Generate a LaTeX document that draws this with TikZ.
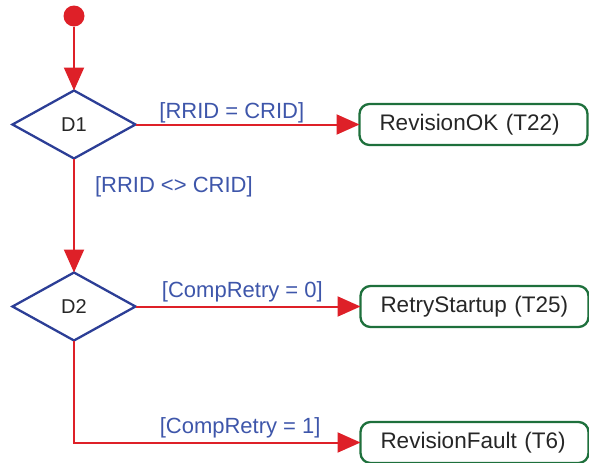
\documentclass[tikz,border=0pt]{standalone}
\usepackage{fontspec}
\setmainfont{Liberation Sans}
\usetikzlibrary{arrows.meta,positioning,shapes.geometric}

\definecolor{flowred}{RGB}{222,32,40}
\definecolor{decblue}{RGB}{44,62,150}
\definecolor{guardblue}{RGB}{62,86,170}
\definecolor{stategreen}{RGB}{30,112,60}

\begin{document}
\begin{tikzpicture}[
  flow/.style={-{Triangle[length=23pt,width=20pt]}, line width=2pt, draw=flowred},
  initial/.style={circle, fill=flowred, minimum size=21pt, inner sep=0pt, outer sep=0pt},
  decision/.style={diamond, draw=decblue, line width=2.3pt, minimum width=123pt,
    minimum height=68pt, inner sep=0pt, outer sep=0pt,
    font=\fontsize{20}{24}\selectfont, text=black!85},
  state/.style={rectangle, rounded corners=10pt, draw=stategreen, line width=2.3pt,
    text width=188pt, align=left, inner xsep=20pt, inner ysep=0pt,
    minimum height=41pt, outer sep=0pt, font=\fontsize{22.5}{26}\selectfont, text=black!85},
  guard/.style={text=guardblue, font=\fontsize{22}{26}\selectfont, inner sep=3pt}
]
\useasboundingbox (0pt,0pt) rectangle (589pt,-463pt);

\node[initial] (start) at (74pt,-16pt) {};
\node[decision, below=64pt of start] (d1) {D1};
\node[state, right=224pt of d1] (ok) {RevisionOK (T22)};
\node[decision, below=114pt of d1] (d2) {D2};
\node[state, right=225pt of d2] (retry) {RetryStartup (T25)};
\node[state, below=95pt of retry] (fault) {RevisionFault (T6)};

\draw[flow] (start) -- (d1);
\draw[flow] (d1) -- node[guard, above, pos=0.43, yshift=-3pt] (g1) {[RRID = CRID]} (ok);
\draw[flow] (d1) -- node[guard, right, pos=0.25, xshift=17pt] (g2) {[RRID <> CRID]} (d2);
\draw[flow] (d2) -- node[guard, above, pos=0.475] (g3) {[CompRetry = 0]} (retry);
\draw[flow] (d2) |- node[guard, above, pos=0.79] (g4) {[CompRetry = 1]} (fault);

\end{tikzpicture}
\end{document}
